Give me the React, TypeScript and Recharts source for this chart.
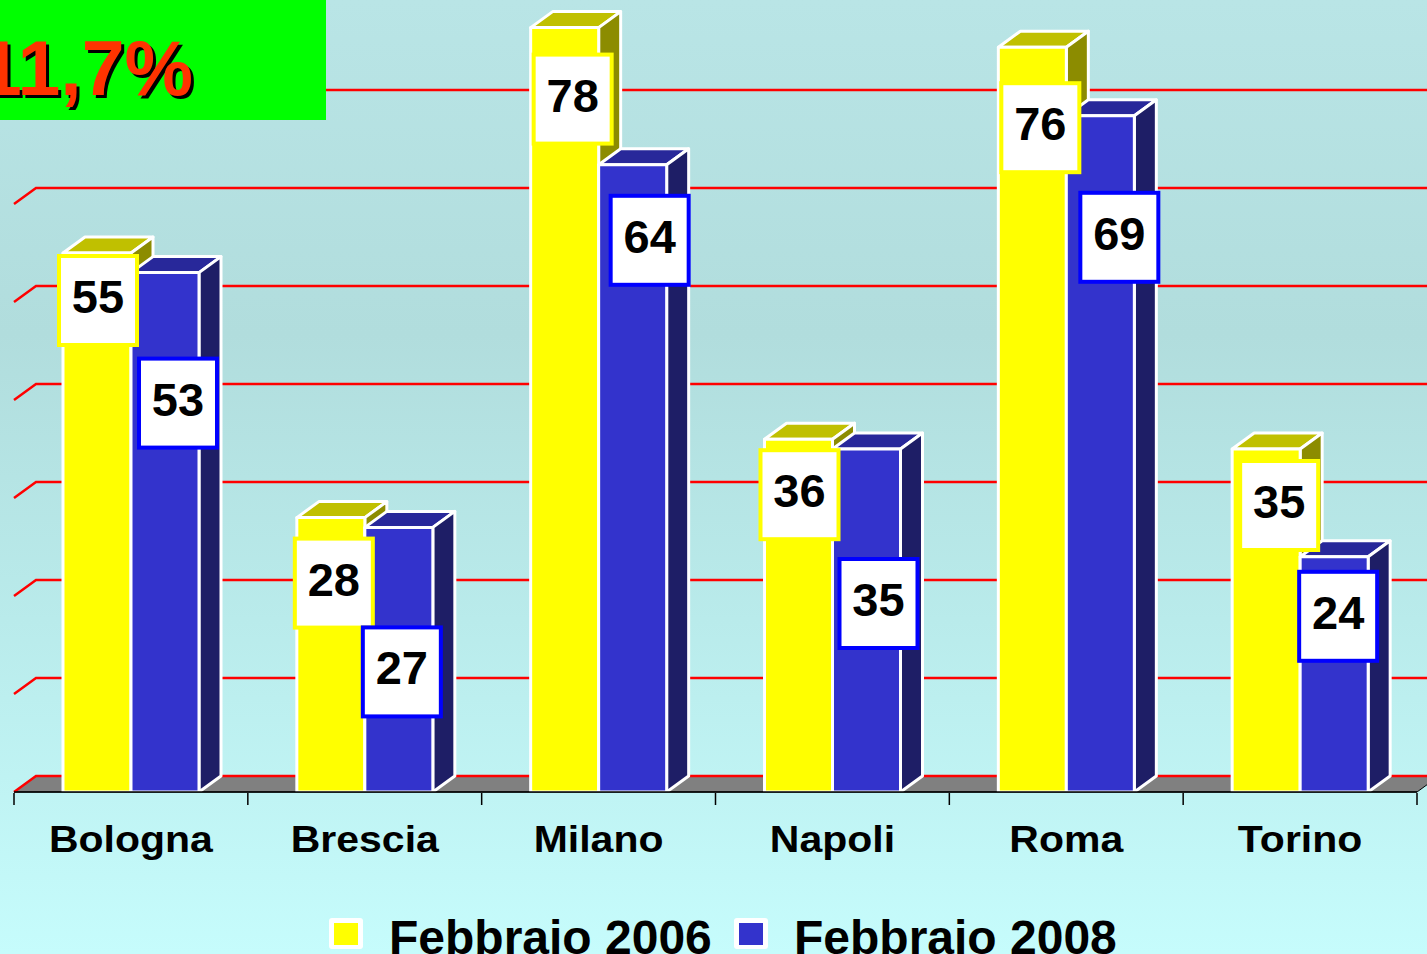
import React from 'react';
import { BarChart, Bar, XAxis, YAxis, CartesianGrid, LabelList, Legend } from 'recharts';

// ---------- data ----------
const categories = ['Bologna', 'Brescia', 'Milano', 'Napoli', 'Roma', 'Torino'];
const feb2006 = [55, 28, 78, 36, 76, 35];
const feb2008 = [53, 27, 64, 35, 69, 24];
const seriesNames = ['Febbraio 2006', 'Febbraio 2008'];
const yTicks = [0, 10, 20, 30, 40, 50, 60, 70, 80];
const headline = '11,7%';

// ---------- layout (not data) ----------
// label box offsets: [dx from bar centre, dy from bar top]
const label2006Offsets = [[1, 1], [3, 19], [8, 25], [1, 9], [8, 34], [13, 10]];
const label2008Offsets = [[13, 84], [3, 98], [17, 29], [12, 108], [19, 75], [4, 13]];

const W = 1427;
const H = 954;
const M_TOP = 8;
const M_RIGHT = 10;
const M_LEFT = 14;
const XAXIS_H = 60;
const M_BOTTOM = 102;
const PLOT_LEFT = M_LEFT;
const PLOT_RIGHT = W - M_RIGHT;
const PLOT_BOTTOM = H - M_BOTTOM - XAXIS_H;
const BAND = (PLOT_RIGHT - PLOT_LEFT) / categories.length;
const DX = 22;
const DY = 16;
const FONT = "'Liberation Sans', Arial, Helvetica, sans-serif";

const data = categories.map((c, i) => ({ city: c, a: feb2006[i], b: feb2008[i] }));

const make3D = (front: string, top: string, side: string) => (props: any) => {
  const { x, y, width, height } = props;
  if (x == null || y == null || !width || height == null) return <g />;
  return (
    <g stroke="#FFFFFF" strokeWidth={3} strokeLinejoin="round">
      <polygon
        points={`${x},${y} ${x + DX},${y - DY} ${x + width + DX},${y - DY} ${x + width},${y}`}
        fill={top}
      />
      <polygon
        points={`${x + width},${y} ${x + width + DX},${y - DY} ${x + width + DX},${y + height - DY} ${x + width},${y + height}`}
        fill={side}
      />
      <rect x={x} y={y} width={width} height={height} fill={front} />
    </g>
  );
};

const makeLabel = (offsets: number[][], series: number[], border: string) => (props: any) => {
  const vb = props.viewBox || {};
  const x = props.x != null ? Number(props.x) : vb.x;
  const y = props.y != null ? Number(props.y) : vb.y;
  const width = props.width != null ? Number(props.width) : vb.width;
  let index = props.index;
  const value = props.value != null ? props.value : index != null ? series[index] : undefined;
  if (index == null) index = series.indexOf(Number(value));
  if (index == null || index < 0 || x == null || y == null) return null;
  const [ox, oy] = offsets[index];
  const cx = x + width / 2 + ox;
  const top = y + oy;
  return (
    <g>
      <rect x={cx - 39} y={top + 2} width={78} height={89} fill="#FFFFFF" stroke={border} strokeWidth={4} />
      <text
        x={cx}
        y={top + 59}
        textAnchor="middle"
        fontFamily={FONT}
        fontWeight="bold"
        fontSize={47}
        fill="#000000"
      >
        {value}
      </text>
    </g>
  );
};

const GridLine = (props: any) => {
  const { x1, y1, x2 } = props;
  const backY = y1 - DY;
  const isFloor = Math.abs(y1 - PLOT_BOTTOM) < 1.5;
  return (
    <g key={props.key}>
      {isFloor && (
        <polygon
          points={`${x1},${y1} ${x2},${y1} ${x2 + DX},${backY} ${x1 + DX},${backY}`}
          fill="#808080"
          stroke="#000000"
          strokeWidth={1}
        />
      )}
      <path
        d={`M${x1},${y1} L${x1 + DX},${backY} L${W + 40},${backY}`}
        stroke="#FF0000"
        strokeWidth={2.5}
        fill="none"
      />
    </g>
  );
};

const CityTick = (props: any) => {
  const { x, payload } = props;
  let index = props.index;
  if (index == null) index = categories.indexOf(payload.value);
  const left = x - BAND / 2;
  const right = x + BAND / 2;
  const isLast = index === categories.length - 1;
  return (
    <g>
      <line x1={left} y1={PLOT_BOTTOM + 1} x2={left} y2={PLOT_BOTTOM + 13} stroke="#000000" strokeWidth={1.5} />
      {isLast && (
        <line x1={right} y1={PLOT_BOTTOM + 1} x2={right} y2={PLOT_BOTTOM + 13} stroke="#000000" strokeWidth={1.5} />
      )}
      <text
        transform={`translate(${x},${PLOT_BOTTOM + 60}) scale(1,0.9)`}
        textAnchor="middle"
        fontFamily={FONT}
        fontWeight="bold"
        fontSize={41}
        fill="#000000"
      >
        {payload.value}
      </text>
    </g>
  );
};

const LegendContent = (props: any) => {
  const payload = props.payload || [];
  return (
    <svg width={W} height={70} style={{ display: 'block', overflow: 'visible' }}>
      {payload.map((p: any, i: number) => {
        const mx = 329 + i * 405;
        return (
          <g key={i}>
            <rect x={mx} y={24} width={34} height={31} rx={3} fill="#FFFFFF" />
            <rect x={mx + 5} y={29} width={24} height={22} fill={p.color} />
            <text x={mx + 60} y={60} fontFamily={FONT} fontWeight="bold" fontSize={48} fill="#000000">
              {p.value}
            </text>
          </g>
        );
      })}
    </svg>
  );
};

export default function App() {
  return (
    <div
      style={{
        position: 'absolute',
        left: 0,
        top: 0,
        width: W,
        height: H,
        overflow: 'hidden',
        background: 'linear-gradient(to bottom, #B9E5E6 0%, #B1DDDD 35%, #B9EBEB 65%, #C6FCFC 100%)',
      }}
    >
      <div style={{ position: 'absolute', left: 0, top: 0 }}>
        <BarChart
          width={W}
          height={H}
          data={data}
          margin={{ top: M_TOP, right: M_RIGHT, left: M_LEFT, bottom: M_BOTTOM }}
          barGap={0}
        >
          <CartesianGrid vertical={false} horizontal={GridLine as any} />
          <YAxis hide domain={[0, 80]} ticks={yTicks} allowDataOverflow />
          <XAxis
            dataKey="city"
            height={XAXIS_H}
            interval={0}
            tickLine={false}
            axisLine={{ stroke: '#000000', strokeWidth: 1.5 }}
            tick={CityTick as any}
          />
          <Bar
            dataKey="a"
            name={seriesNames[0]}
            fill="#FFFF00"
            barSize={68}
            isAnimationActive={false}
            shape={make3D('#FFFF00', '#C0C000', '#8C8C00') as any}
          />
          <Bar
            dataKey="b"
            name={seriesNames[1]}
            fill="#3333CC"
            barSize={68}
            isAnimationActive={false}
            shape={make3D('#3333CC', '#28289A', '#1E1E66') as any}
          />
          <Legend
            layout="horizontal"
            verticalAlign="middle"
            align="center"
            content={LegendContent as any}
            wrapperStyle={{ top: 894, left: 0, width: W, height: 70 }}
          />
        </BarChart>
      </div>
      <div style={{ position: 'absolute', left: 0, top: 0 }}>
        <BarChart
          width={W}
          height={H}
          data={data}
          margin={{ top: M_TOP, right: M_RIGHT, left: M_LEFT, bottom: M_BOTTOM + XAXIS_H }}
          barGap={0}
        >
          <YAxis hide domain={[0, 80]} ticks={yTicks} allowDataOverflow />
          <XAxis dataKey="city" hide />
          <Bar dataKey="a" barSize={68} isAnimationActive={false} fill="none" shape={(() => <g />) as any}>
            <LabelList dataKey="a" content={makeLabel(label2006Offsets, feb2006, '#FFFF00') as any} />
          </Bar>
          <Bar dataKey="b" barSize={68} isAnimationActive={false} fill="none" shape={(() => <g />) as any}>
            <LabelList dataKey="b" content={makeLabel(label2008Offsets, feb2008, '#0000FF') as any} />
          </Bar>
        </BarChart>
      </div>
      <svg style={{ position: 'absolute', left: 0, top: 0 }} width={330} height={124}>
        <rect x={0} y={0} width={326} height={120} fill="#00FF00" />
        <text x={196} y={98} textAnchor="end" fontFamily={FONT} fontWeight="bold" fontSize={77} fill="#000000">
          {headline}
        </text>
        <text x={193} y={95} textAnchor="end" fontFamily={FONT} fontWeight="bold" fontSize={77} fill="#FF3300">
          {headline}
        </text>
      </svg>
    </div>
  );
}
